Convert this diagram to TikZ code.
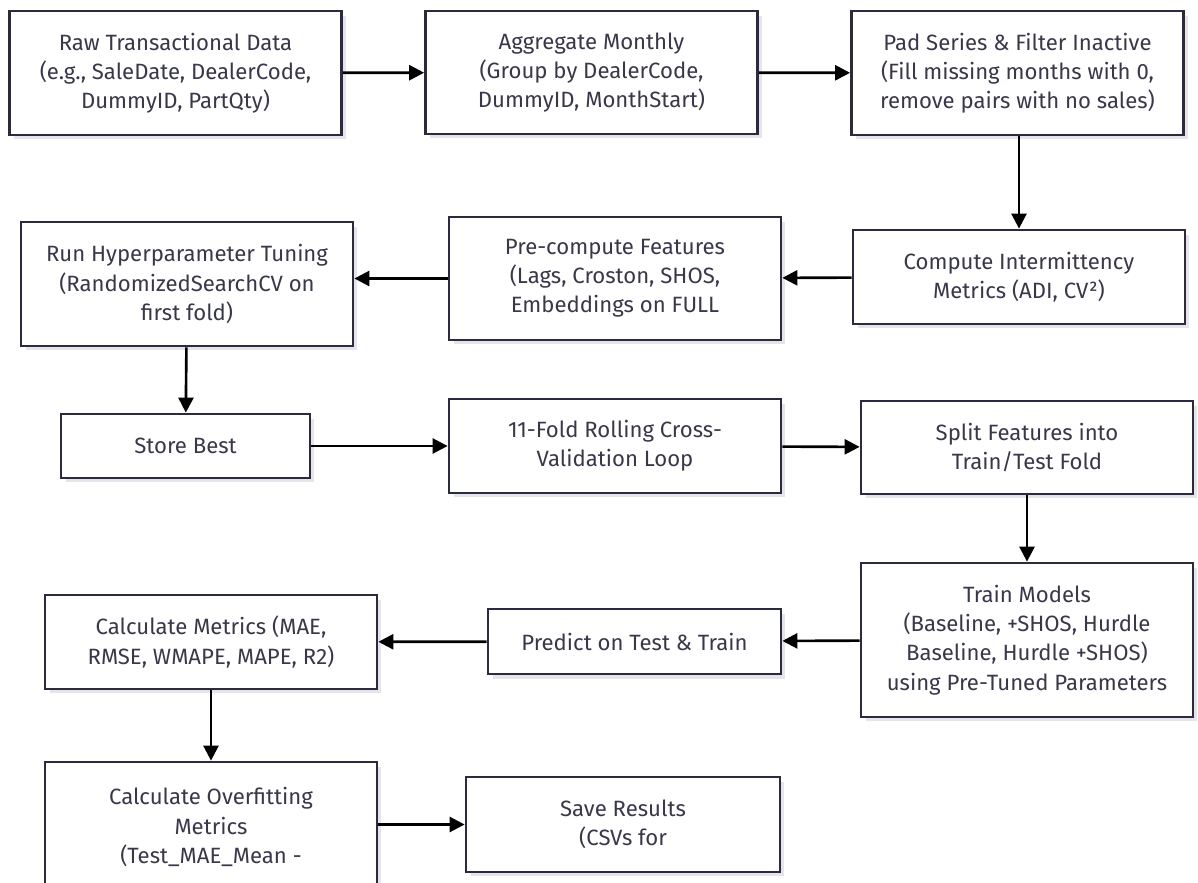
\documentclass[tikz,border=0pt]{standalone}
\usepackage{fontspec}
\setmainfont{Fira Sans}
\usepackage{tikz}
\usetikzlibrary{arrows.meta,positioning,shadows}
\definecolor{Edge}{HTML}{2B2B40}
\definecolor{Ink}{HTML}{38384A}
\definecolor{Shade}{HTML}{E4E4EA}

\begin{document}
\begin{tikzpicture}[x=0.02cm,y=-0.02cm,
    block/.style={rectangle,draw=Edge,line width=1.6pt,fill=white,text=Ink,align=center,minimum width=6.64cm,font=\fontsize{12.6}{16.6}\selectfont,inner sep=2pt,drop shadow={shadow xshift=0.09cm,shadow yshift=-0.09cm,fill=Shade,opacity=1}},
    arrow/.style={-{Triangle[length=0.3cm,width=0.3cm]},line width=1.5pt,draw=black}
]
\useasboundingbox (0,0) rectangle (1198,883);
\clip (0,0) rectangle (1198,883);
\fill[white] (0,0) rectangle (1198,883);

% row 1
\node[block,minimum height=2.48cm] (raw) at (175.5,73) {Raw Transactional Data\\(e.g., SaleDate, DealerCode,\\DummyID, PartQty)};
\node[block,minimum height=2.46cm] (agg) at (591.5,72.5) {Aggregate Monthly\\(Group by DealerCode,\\DummyID, MonthStart)};
\node[block,minimum height=2.48cm] (pad) at (1017.5,73) {Pad Series \& Filter Inactive\\(Fill missing months with 0,\\remove pairs with no sales)};

% row 2
\node[block,minimum height=1.88cm] (inter) at (1019,277) {Compute Intermittency\\Metrics (ADI, CV²)};
\node[block,minimum height=2.46cm] (feat) at (615,278.5) {Pre-compute Features\\(Lags, Croston, SHOS,\\Embeddings on FULL};
\node[block,minimum height=2.48cm] (tune) at (187,284) {Run Hyperparameter Tuning\\(RandomizedSearchCV on\\first fold)};

% row 3
\node[block,minimum width=4.98cm,minimum height=1.28cm] (best) at (185.5,446) {Store Best};
\node[block,minimum height=1.88cm] (cv) at (615,446) {11-Fold Rolling Cross-\\Validation Loop};
\node[block,minimum height=1.86cm] (split) at (1027,447.5) {Split Features into\\Train/Test Fold};

% row 4
\node[block,minimum height=3.08cm] (train) at (1027,640) {Train Models\\(Baseline, +SHOS, Hurdle\\Baseline, Hurdle +SHOS)\\using Pre-Tuned Parameters};
\node[block,minimum width=5.86cm,minimum height=1.3cm] (pred) at (634.5,641.5) {Predict on Test \& Train};
\node[block,minimum height=1.88cm] (metr) at (211,642) {Calculate Metrics (MAE,\\RMSE, WMAPE, MAPE, R2)};

% row 5
\node[block,minimum height=2.6cm] (over) at (211,827) {Calculate Overfitting\\Metrics\\(Test\_MAE\_Mean -};
\node[block,minimum width=6.28cm,minimum height=1.9cm] (save) at (623,824.5) {Save Results\\(CSVs for};

% connectors
\draw[arrow] (raw) -- (agg);
\draw[arrow] (agg) -- (pad);
\draw[arrow] (pad.south -| inter) -- (inter);
\draw[arrow] (inter) -- (feat);
\draw[arrow] (feat.west) -- (feat.west -| tune.east);
\draw[arrow] (tune) -- (best);
\draw[arrow] (best) -- (cv);
\draw[arrow] (cv) -- (split);
\draw[arrow] (split) -- (train);
\draw[arrow] (train) -- (pred);
\draw[arrow] (pred) -- (metr);
\draw[arrow] (metr) -- (over);
\draw[arrow] (save -| over.east) -- (save);
\end{tikzpicture}
\end{document}
